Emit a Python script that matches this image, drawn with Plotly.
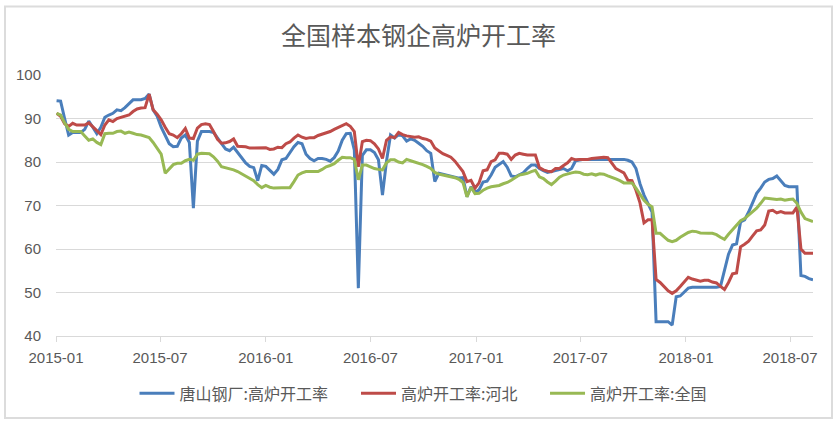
import pandas as pd
import plotly.graph_objects as go

# weekly observations (first Friday of 2015 onwards)
start_date = "2015-01-02"
n_weeks = 189
weeks = pd.date_range(start_date, periods=n_weeks, freq="7D")

tangshan = [
    94.1, 94.0, 90.0, 86.2, 86.8, 86.8, 86.8, 87.5, 89.4, 88.0,
    86.5, 88.0, 90.3, 90.8, 91.2, 92.0, 91.8, 92.5, 93.4, 94.3,
    94.3, 94.3, 94.6, 95.6, 92.0, 90.5, 88.0, 86.0, 84.2, 83.5,
    83.6, 85.5, 86.2, 84.5, 69.4, 84.8, 87.0, 87.0, 87.0, 86.8,
    85.4, 84.2, 83.0, 82.6, 83.4, 82.2, 81.0, 79.8, 79.0, 78.7,
    75.7, 79.2, 79.0, 78.2, 77.2, 78.3, 80.5, 80.8, 82.3, 83.5,
    84.5, 84.2, 81.8, 80.8, 80.3, 80.8, 80.8, 80.6, 80.2, 81.0,
    82.5, 85.0, 86.5, 86.6, 82.8, 51.0, 81.5, 82.8, 82.8, 82.2,
    80.5, 72.4, 80.2, 86.2, 85.5, 86.3, 86.0, 84.8, 85.3, 85.0,
    84.3, 83.6, 82.6, 82.0, 75.5, 77.4, 77.2, 77.0, 76.8, 76.6,
    76.3, 76.4, 72.0, 74.3, 73.0, 73.6, 75.4, 75.6, 77.0, 78.8,
    79.4, 80.1, 78.8, 76.8, 76.6, 77.0, 77.5, 78.5, 79.3, 79.3,
    78.5, 78.0, 77.6, 77.8, 78.0, 78.2, 78.5, 78.0, 78.5, 80.3,
    80.5, 80.6, 80.6, 80.6, 80.6, 80.6, 80.6, 80.6, 80.6, 80.6,
    80.6, 80.6, 80.4, 80.0, 78.5, 75.0, 72.4, 70.6, 68.5, 43.3,
    43.3, 43.3, 43.3, 42.5, 49.0, 49.2, 50.2, 51.0, 51.2, 51.2,
    51.2, 51.2, 51.2, 51.2, 51.2, 51.4, 55.0, 58.8, 60.9, 61.2,
    66.2, 66.7, 68.5, 70.6, 72.8, 74.0, 75.4, 76.0, 76.2, 76.8,
    75.8, 74.6, 74.3, 74.3, 74.3, 53.9, 53.7, 53.2, 52.9,
]

hebei = [
    91.2, 90.5, 88.8, 88.2, 88.9, 88.5, 88.5, 88.5, 89.0, 88.2,
    87.2, 86.3, 88.5, 89.7, 89.3, 90.0, 90.3, 90.5, 90.8, 91.6,
    92.2, 92.4, 92.5, 95.6, 92.0, 91.0, 89.7, 88.0, 86.5, 86.2,
    85.6, 86.5, 87.7, 85.5, 85.4, 87.8, 88.6, 88.8, 88.6, 87.0,
    85.2, 84.3, 84.4, 84.7, 85.3, 83.6, 83.5, 83.5, 83.2, 83.2,
    83.3, 83.2, 83.3, 82.9, 83.0, 83.4, 83.3, 84.2, 84.6, 85.5,
    86.2, 85.7, 85.4, 85.6, 85.6, 86.1, 86.4, 86.6, 87.0, 87.5,
    87.9, 88.4, 88.8, 88.2, 87.0, 78.9, 84.7, 85.0, 84.9, 84.2,
    83.0, 80.8, 85.0, 85.8, 85.6, 86.8, 86.3, 86.0, 85.8, 85.7,
    85.8, 85.4, 85.2, 84.8, 83.2, 82.5, 81.9, 81.5, 81.1, 80.2,
    79.0, 77.8, 75.5, 75.8, 74.0, 75.2, 78.0, 78.2, 80.1, 80.5,
    82.0, 82.0, 81.8, 80.6, 81.6, 82.0, 81.8, 81.6, 81.6, 81.6,
    78.7, 78.2, 77.9, 77.8, 78.5, 78.5, 79.2, 79.8, 80.8, 80.5,
    80.6, 80.6, 80.6, 80.8, 80.9, 81.0, 81.1, 81.0, 79.8, 78.5,
    78.0, 77.5, 75.8, 75.7, 73.5, 70.6, 66.0, 66.7, 66.7, 53.0,
    52.3, 51.3, 50.4, 49.8, 50.4, 51.4, 52.5, 53.5, 53.1, 52.8,
    52.6, 52.8, 52.8, 52.4, 52.2, 51.4, 50.7, 52.3, 54.3, 54.5,
    60.5, 61.1, 61.8, 63.0, 64.2, 64.4, 65.5, 68.7, 68.9, 68.3,
    68.6, 68.3, 68.3, 68.3, 69.6, 60.0, 59.0, 59.0, 59.0,
]

national = [
    91.2, 90.8, 89.0, 87.5, 87.0, 87.0, 87.0, 86.0, 85.0, 85.3,
    84.5, 84.0, 86.5, 86.6, 86.6, 87.0, 87.1, 86.6, 86.9, 86.6,
    86.3, 86.2, 85.9, 85.6, 84.5, 83.0, 81.8, 77.4, 78.3, 79.4,
    79.7, 79.7, 80.3, 80.6, 80.4, 81.8, 82.0, 82.0, 81.9, 81.2,
    80.2, 78.9, 78.7, 78.5, 78.2, 77.8, 77.3, 76.7, 76.2, 75.7,
    74.8, 74.1, 74.6, 74.2, 74.0, 74.1, 74.1, 74.1, 74.1, 75.5,
    77.0, 77.5, 77.8, 77.8, 77.8, 77.8, 78.3, 78.9, 79.2, 79.6,
    80.4, 81.1, 81.0, 81.0, 80.6, 75.9, 79.3, 79.3, 78.9, 78.5,
    78.3, 78.2, 79.8, 80.5, 80.5, 80.0, 79.8, 80.6, 80.3, 80.0,
    79.8, 79.4, 79.0, 78.5, 77.6, 77.2, 77.0, 76.8, 76.6, 76.4,
    76.0, 75.3, 72.0, 74.2, 72.7, 72.8, 73.5, 74.0, 74.3, 74.5,
    74.6, 75.0, 75.3, 75.8, 76.4, 77.0, 77.2, 77.4, 77.8, 78.1,
    76.6, 76.2, 75.4, 74.8, 75.6, 76.5, 77.0, 77.3, 77.5, 77.7,
    77.6, 77.2, 77.1, 77.3, 77.0, 77.3, 77.2, 76.8, 76.5, 76.1,
    75.7, 75.2, 75.2, 75.2, 74.0, 72.5, 71.2, 70.3, 69.7, 63.6,
    63.6, 62.8, 62.0, 61.7, 62.0, 62.7, 63.3, 63.8, 64.1, 64.0,
    63.7, 63.6, 63.6, 63.6, 63.3, 62.7, 62.2, 63.4, 64.5, 65.5,
    66.5, 67.0, 67.8, 68.6, 69.4, 70.5, 71.7, 71.6, 71.5, 71.4,
    71.5, 71.2, 71.4, 71.5, 70.5, 68.5, 67.0, 66.6, 66.3,
]

series_names = ["唐山钢厂:高炉开工率", "高炉开工率:河北", "高炉开工率:全国"]
series_values = [tangshan, hebei, national]
series_colors = ["#4A7EBB", "#BE4B48", "#98B954"]

y_ticks = [40, 50, 60, 70, 80, 90, 100]
x_tick_dates = ["2015-01-01", "2015-07-01", "2016-01-01", "2016-07-01",
                "2017-01-01", "2017-07-01", "2018-01-01", "2018-07-01"]
x_tick_labels = ["2015-01", "2015-07", "2016-01", "2016-07",
                 "2017-01", "2017-07", "2018-01", "2018-07"]

CJK = "Noto Sans CJK SC"
NUM = "Liberation Sans, Noto Sans CJK SC"
TXT = "#595959"

legend_refs = ["legend", "legend2", "legend3"]
legend_x = [0.1037, 0.3963, 0.6460]

fig = go.Figure()
for name, vals, col, lref in zip(series_names, series_values, series_colors, legend_refs):
    fig.add_trace(go.Scatter(
        x=weeks, y=vals, mode="lines", name=name,
        line=dict(color=col, width=3), legend=lref,
    ))

legend_style = dict(orientation="h", xanchor="left", y=-0.22, yanchor="middle",
                    font=dict(family=CJK, size=16, color=TXT),
                    bgcolor="rgba(0,0,0,0)", itemwidth=35)

fig.update_layout(
    width=837, height=423,
    margin=dict(l=56, r=24, t=75, b=87),
    paper_bgcolor="white", plot_bgcolor="white",
    title=dict(text="全国样本钢企高炉开工率", x=0.5, xanchor="center",
               y=0.915, yanchor="middle",
               font=dict(family=CJK, size=25, color=TXT)),
    showlegend=True,
    legend=dict(x=legend_x[0], **legend_style),
    legend2=dict(x=legend_x[1], **legend_style),
    legend3=dict(x=legend_x[2], **legend_style),
    shapes=[dict(type="rect", xref="paper", yref="paper",
                 x0=-0.0674, x1=1.0251, y0=-0.3142, y1=1.2625,
                 line=dict(color="#DCDCDC", width=2), layer="below")],
)

fig.update_xaxes(
    type="date", range=["2015-01-01", "2018-08-10"],
    tickvals=x_tick_dates, ticktext=x_tick_labels,
    showgrid=False, showline=True, linecolor="#D9D9D9", linewidth=1,
    ticks="outside", ticklen=5, tickcolor="#D9D9D9",
    ticklabelstandoff=3,
    tickfont=dict(family=NUM, size=15, color=TXT),
    zeroline=False,
)
fig.update_yaxes(
    range=[40, 100], tickvals=y_ticks,
    showgrid=True, gridcolor="#D9D9D9", gridwidth=1,
    showline=False, zeroline=False, ticks="",
    ticklabelstandoff=14,
    tickfont=dict(family=NUM, size=15, color=TXT),
)

fig.write_html("out.html", config={"displayModeBar": False},
               post_script="document.body.style.margin='0px';")
